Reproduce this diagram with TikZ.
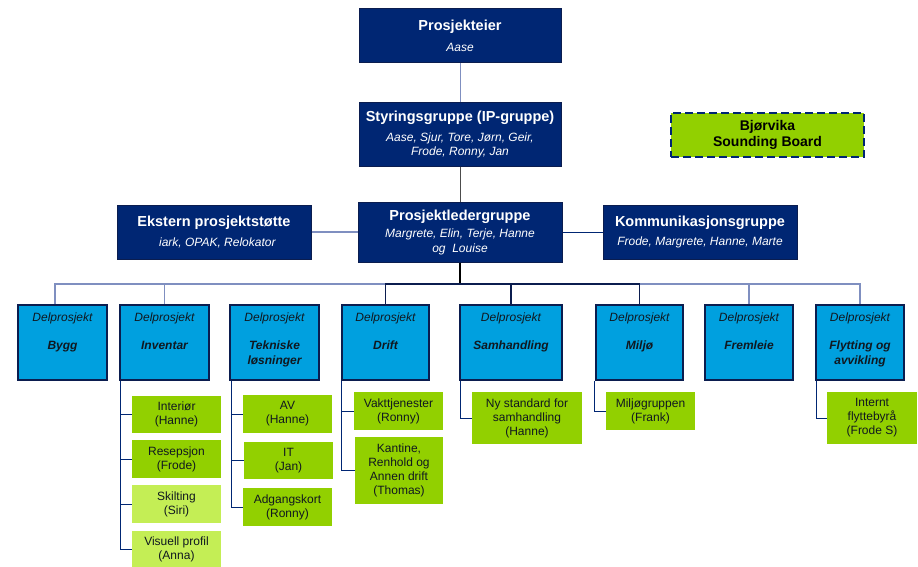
\documentclass[tikz,border=0pt]{standalone}
\usepackage{fontspec}
\setmainfont{Liberation Sans}
\definecolor{navy}{HTML}{002673}
\definecolor{navyedge}{HTML}{0B1D4F}
\definecolor{sky}{HTML}{00A0DF}
\definecolor{leaf}{HTML}{92D000}
\definecolor{pale}{HTML}{C4EE55}
\definecolor{steel}{HTML}{7F8FC0}
\definecolor{ink}{HTML}{101820}
\newcommand{\leadtitle}[1]{{\upshape\bfseries\fontsize{14.5}{17}\selectfont #1}}
\begin{document}
\begin{tikzpicture}[x=1pt,y=-1pt,
	lead/.style={draw=navyedge, line width=1pt, fill=navy, text=white, inner sep=0pt, align=center,
		font=\itshape\fontsize{12}{14.5}\selectfont},
	part/.style={draw=navyedge, line width=1.5pt, fill=sky, inner sep=0pt, minimum width=89pt, minimum height=75pt,
		label={[partlabel]north:Delprosjekt}},
	partlabel/.style={anchor=north, yshift=-8.5pt, inner sep=0pt, text=ink, font=\itshape\fontsize{12}{14}\selectfont},
	partname/.style={anchor=north, yshift=-36.5pt, inner sep=0pt, align=center, text=ink,
		font=\bfseries\itshape\fontsize{12}{15}\selectfont},
	task/.style={fill=leaf, inner sep=0pt, minimum width=89pt, align=center, text=ink, font=\fontsize{12}{14}\selectfont},
	link/.style={draw=navy, line width=0.9pt}]

	\path[fill=white, use as bounding box] (0,0) rectangle (918,567);

	\node[lead, minimum width=202pt, minimum height=54pt] (eier) at (460,36) {\leadtitle{Prosjekteier}\\[6pt]Aase};
	\node[lead, minimum width=202pt, minimum height=63pt] (styring) at (460,134.5)
		{\leadtitle{Styringsgruppe (IP-gruppe)}\\[5pt]Aase, Sjur, Tore, Jørn, Geir,\\Frode, Ronny, Jan};
	\node[lead, minimum width=204pt, minimum height=60pt] (leder) at (460,232)
		{\leadtitle{Prosjektledergruppe}\\[3pt]Margrete, Elin, Terje, Hanne\\og\ \ Louise};
	\node[lead, minimum width=194pt, minimum height=54pt] (ekstern) at (214,232)
		{\leadtitle{Ekstern prosjektstøtte}\\[5pt]\ \ iark, OPAK, Relokator};
	\node[lead, minimum width=194pt, minimum height=54pt] (komm) at (700,232)
		{\leadtitle{Kommunikasjonsgruppe}\\[5pt]Frode, Margrete, Hanne, Marte};
	\node[draw=navy, line width=2.5pt, dash pattern=on 8pt off 4pt, fill=leaf, inner sep=0pt,
		minimum width=193pt, minimum height=44pt, align=center, text=black,
		font=\bfseries\fontsize{14}{16}\selectfont] (board) at (767.5,135) {Bjørvika\\Sounding Board};

	\path[draw=steel, line width=1pt] (eier) -- (styring);
	\path[draw=black!70, line width=1pt] (styring) -- (leder);
	\path[draw=steel, line width=1.5pt] (ekstern) -- (leder);
	\path[link] (leder) -- (komm);

	\node[part, label={[partname]north:Bygg}] (bygg) at (62.5,342.5) {};
	\node[part, label={[partname]north:Inventar}] (inventar) at (164.5,342.5) {};
	\node[part, label={[partname]north:{Tekniske\\løsninger}}] (tekniske) at (274.5,342.5) {};
	\node[part, minimum width=87pt, label={[partname]north:Drift}] (drift) at (385.5,342.5) {};
	\node[part, minimum width=102pt, label={[partname]north:Samhandling}] (samhandling) at (511,342.5) {};
	\node[part, minimum width=87pt, label={[partname]north:Miljø}] (miljo) at (639.5,342.5) {};
	\node[part, minimum width=88pt, label={[partname]north:Fremleie}] (fremleie) at (749,342.5) {};
	\node[part, minimum width=88pt, label={[partname]north:{Flytting og\\avvikling}}] (flytting) at (860,342.5) {};

	\coordinate (hub) at (460,284);
	\path[draw=black, line width=1.5pt] (leder) -- (hub);
	\path[draw=steel, line width=1.5pt] (hub) -| ([xshift=-7.5pt]bygg.north);
	\path[draw=steel, line width=1.5pt] (hub) -| (inventar.north);
	\path[draw=steel, line width=1.5pt] (hub) -| (flytting.north);
	\path[draw=steel, line width=1.5pt] (hub) -| (fremleie.north);
	\path[draw=navyedge, line width=1.5pt] (hub) -| (drift.north);
	\path[draw=navyedge, line width=1.5pt] (hub) -| (samhandling.north);
	\path[draw=navyedge, line width=1.5pt] (hub) -| (miljo.north);

	\node[task, minimum height=37pt] (interior) at (176.5,414.5) {Interiør\\(Hanne)};
	\node[task, minimum height=38pt] (resepsjon) at (176.5,459) {Resepsjon\\(Frode)};
	\node[task, fill=pale, minimum height=38pt] (skilting) at (176.5,504) {Skilting\\(Siri)};
	\node[task, fill=pale, minimum height=36pt] (visuell) at (176.5,549) {Visuell profil\\(Anna)};

	\node[task, minimum height=38pt] (av) at (287.5,414) {AV\\(Hanne)};
	\node[task, minimum height=37pt] (it) at (288.5,460.5) {IT\\(Jan)};
	\node[task, minimum height=38pt] (adgang) at (287.5,507) {Adgangskort\\(Ronny)};

	\node[task, minimum height=38pt] (vakt) at (398.5,411) {Vakttjenester\\(Ronny)};
	\node[task, minimum width=88pt, minimum height=67pt] (kantine) at (399,470.5) {Kantine,\\Renhold og\\Annen drift\\(Thomas)};

	\node[task, minimum width=110pt, minimum height=52pt] (nystd) at (527,418) {Ny standard for\\samhandling\\(Hanne)};
	\node[task, minimum height=38pt] (miljogr) at (650.5,411) {Miljøgruppen\\(Frank)};
	\node[task, minimum width=90pt, minimum height=52pt] (internt) at (872,418) {Internt\\flyttebyrå\\(Frode S)};

	\path[link] ([xshift=1pt]inventar.south west) |- (interior.west);
	\path[link] ([xshift=1pt]inventar.south west) |- (resepsjon.west);
	\path[link] ([xshift=1pt]inventar.south west) |- (skilting.west);
	\path[link] ([xshift=1pt]inventar.south west) |- (visuell.west);
	\path[link] ([xshift=2pt]tekniske.south west) |- (av.west);
	\path[link] ([xshift=2pt]tekniske.south west) |- (it.west);
	\path[link] ([xshift=2pt]tekniske.south west) |- (adgang.west);
	\path[link] (drift.south west) |- (vakt.west);
	\path[link] (drift.south west) |- (kantine.west);
	\path[link] ([xshift=1pt]samhandling.south west) |- (nystd.west);
	\path[link] ([xshift=-1pt]miljo.south west) |- (miljogr.west);
	\path[link] ([xshift=1pt]flytting.south west) |- (internt.west);
\end{tikzpicture}
\end{document}
